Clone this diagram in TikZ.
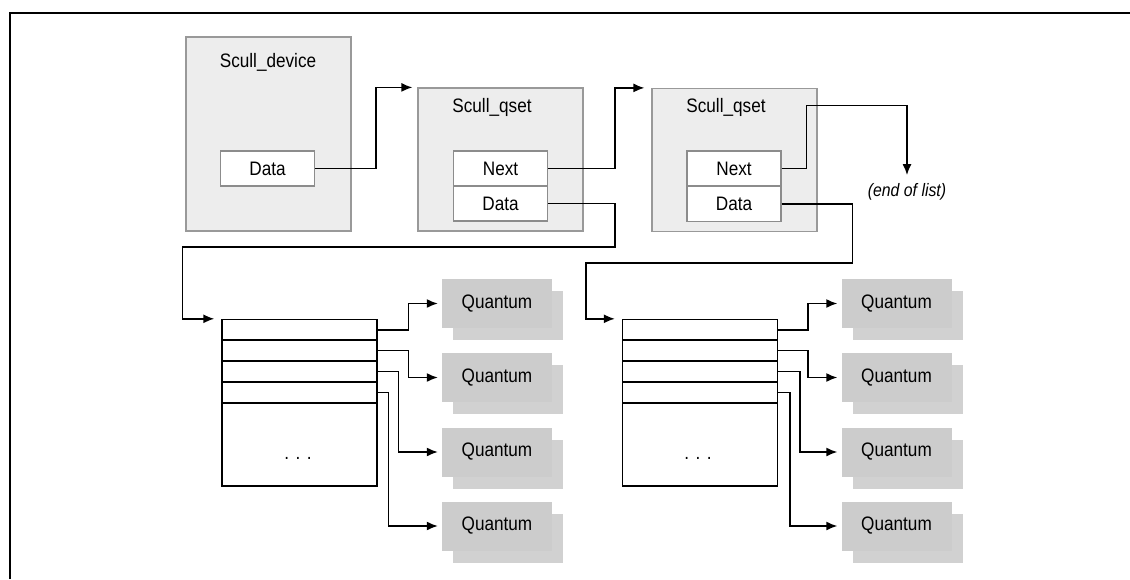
\documentclass[tikz,border=0pt]{standalone}
\usepackage{fontspec}
\setmainfont{Liberation Sans}[FakeStretch=0.88]
\usetikzlibrary{positioning, calc}
\usetikzlibrary{arrows.meta}
\usetikzlibrary{shadows}

\begin{document}
\begin{tikzpicture}[x=1pt,y=-1pt,font=\fontsize{19.5}{22}\selectfont]
	\def \rowone{330}
	\def \rowtwo{350.5}
	\def \rowthree{371.5}
	\def \rowfour{392.5}
	\def \rowrest{444.5}
	%\def \rowtop{319}
	\tikzstyle{s-box}=[draw=black!40,fill=black!7,line width=1.2pt,minimum width=165pt,minimum height=143pt,inner sep=0pt]
	\tikzstyle{f-node}=[draw=black!45,fill=white,line width=1.2pt,minimum width=94pt,minimum height=35pt,inner sep=0pt]
	\tikzstyle{t-row}=[draw=black,line width=1.4pt,minimum width=155pt,minimum height=21pt,inner sep=0pt]
	\tikzstyle{q-node}=[fill=black!20,minimum width=110pt,minimum height=49pt,inner sep=0pt,drop shadow={shadow xshift=11pt,shadow yshift=-12pt,fill=black!36}]
	\tikzstyle{link}=[draw=black,line width=1.5pt,-{Latex[length=11pt,width=9pt]}]
	\useasboundingbox (0,0) rectangle (1130,579);
	% frame
	\draw[line width=2pt] (10,579) -- (10,13) -- (1130,13);

	% structures
	\node[s-box,minimum height=194pt] (dev)	at (268.5,134)	{};
	\node[s-box]	(qs1)	at (500.5,159.5)	{};
	\node[s-box]	(qs2)	at (734.5,160)	{};
	\node	(devlbl)	at (268,62)	{Scull\_device};
	\node	(qs1lbl)	at (492,107)	{Scull\_qset};
	\node	(qs2lbl)	at (726,107)	{Scull\_qset};

	% fields
	\node[f-node]	(devdata)	at (267.5,168.5)	{Data};
	\node[f-node]	(qs1next)	at (500.5,168.5)	{Next};
	\node[f-node]	(qs1data)	at (500.5,203.5)	{Data};
	\node[f-node]	(qs2next)	at (734,168.5)	{Next};
	\node[f-node]	(qs2data)	at (734,204)	{Data};
	\node[font=\fontsize{18}{20}\selectfont\itshape]	(eol)	at (907,192)	{(end of list)};

	% first array
	\node[t-row]	(t1r1)	at (299.5,\rowone)	{};
	\node[t-row]	(t1r2)	at (299.5,\rowtwo)	{};
	\node[t-row]	(t1r3)	at (299.5,\rowthree)	{};
	\node[t-row]	(t1r4)	at (299.5,\rowfour)	{};
	\node[t-row,minimum height=83pt]	(t1r5)	at (299.5,\rowrest)	{};
	\node	(t1dots)	at (298,458)	{.\,\,.\,\,.};

	% second array
	\node[t-row]	(t2r1)	at (700,\rowone)	{};
	\node[t-row]	(t2r2)	at (700,\rowtwo)	{};
	\node[t-row]	(t2r3)	at (700,\rowthree)	{};
	\node[t-row]	(t2r4)	at (700,\rowfour)	{};
	\node[t-row,minimum height=83pt]	(t2r5)	at (700,\rowrest)	{};
	\node	(t2dots)	at (698,458)	{.\,\,.\,\,.};

	% quantum sets
	\node[q-node]	(q1a)	at (497,303.5)	{Quantum};
	\node[q-node]	(q1b)	at (497,377.5)	{Quantum};
	\node[q-node]	(q1c)	at (497,452)	{Quantum};
	\node[q-node]	(q1d)	at (497,526)	{Quantum};
	\node[q-node]	(q2a)	at (896.5,303.5)	{Quantum};
	\node[q-node]	(q2b)	at (896.5,377.5)	{Quantum};
	\node[q-node]	(q2c)	at (896.5,452)	{Quantum};
	\node[q-node]	(q2d)	at (896.5,526)	{Quantum};

	% pointers
	\draw[link,shorten >=5pt]	(devdata.east) -- ++(61,0) |- (qs1.north west);
	\draw[link,shorten >=7pt]	(qs1next.east) -- ++(67,0) |- (qs2.north west);
	\draw[link,shorten >=5pt]	(qs2next.east) -- ++(25,0) -- ++(0,-63) -| (eol.north);
	\draw[link,shorten >=7pt]	(qs1data.east) -- ++(67,0) -- ++(0,43.5) -| ([xshift=-39pt]t1r1.north west) -- (t1r1.north west);
	\draw[link,shorten >=7pt]	(qs2data.east) -- ++(71,0) -- ++(0,59) -| ([xshift=-36pt]t2r1.north west) -- (t2r1.north west);
	%
	\draw[link,shorten >=4pt]	(t1r1.east) -- ++(31,0) |- (q1a.west);
	\draw[link,shorten >=4pt]	(t1r2.east) -- ++(31,0) |- (q1b.west);
	\draw[link,shorten >=4pt]	(t1r3.east) -- ++(21,0) |- (q1c.west);
	\draw[link,shorten >=4pt]	(t1r4.east) -- ++(11,0) |- (q1d.west);
	\draw[link,shorten >=4pt]	(t2r1.east) -- ++(30,0) |- (q2a.west);
	\draw[link,shorten >=4pt]	(t2r2.east) -- ++(30,0) |- (q2b.west);
	\draw[link,shorten >=4pt]	(t2r3.east) -- ++(22,0) |- (q2c.west);
	\draw[link,shorten >=4pt]	(t2r4.east) -- ++(12,0) |- (q2d.west);
\end{tikzpicture}
\end{document}
